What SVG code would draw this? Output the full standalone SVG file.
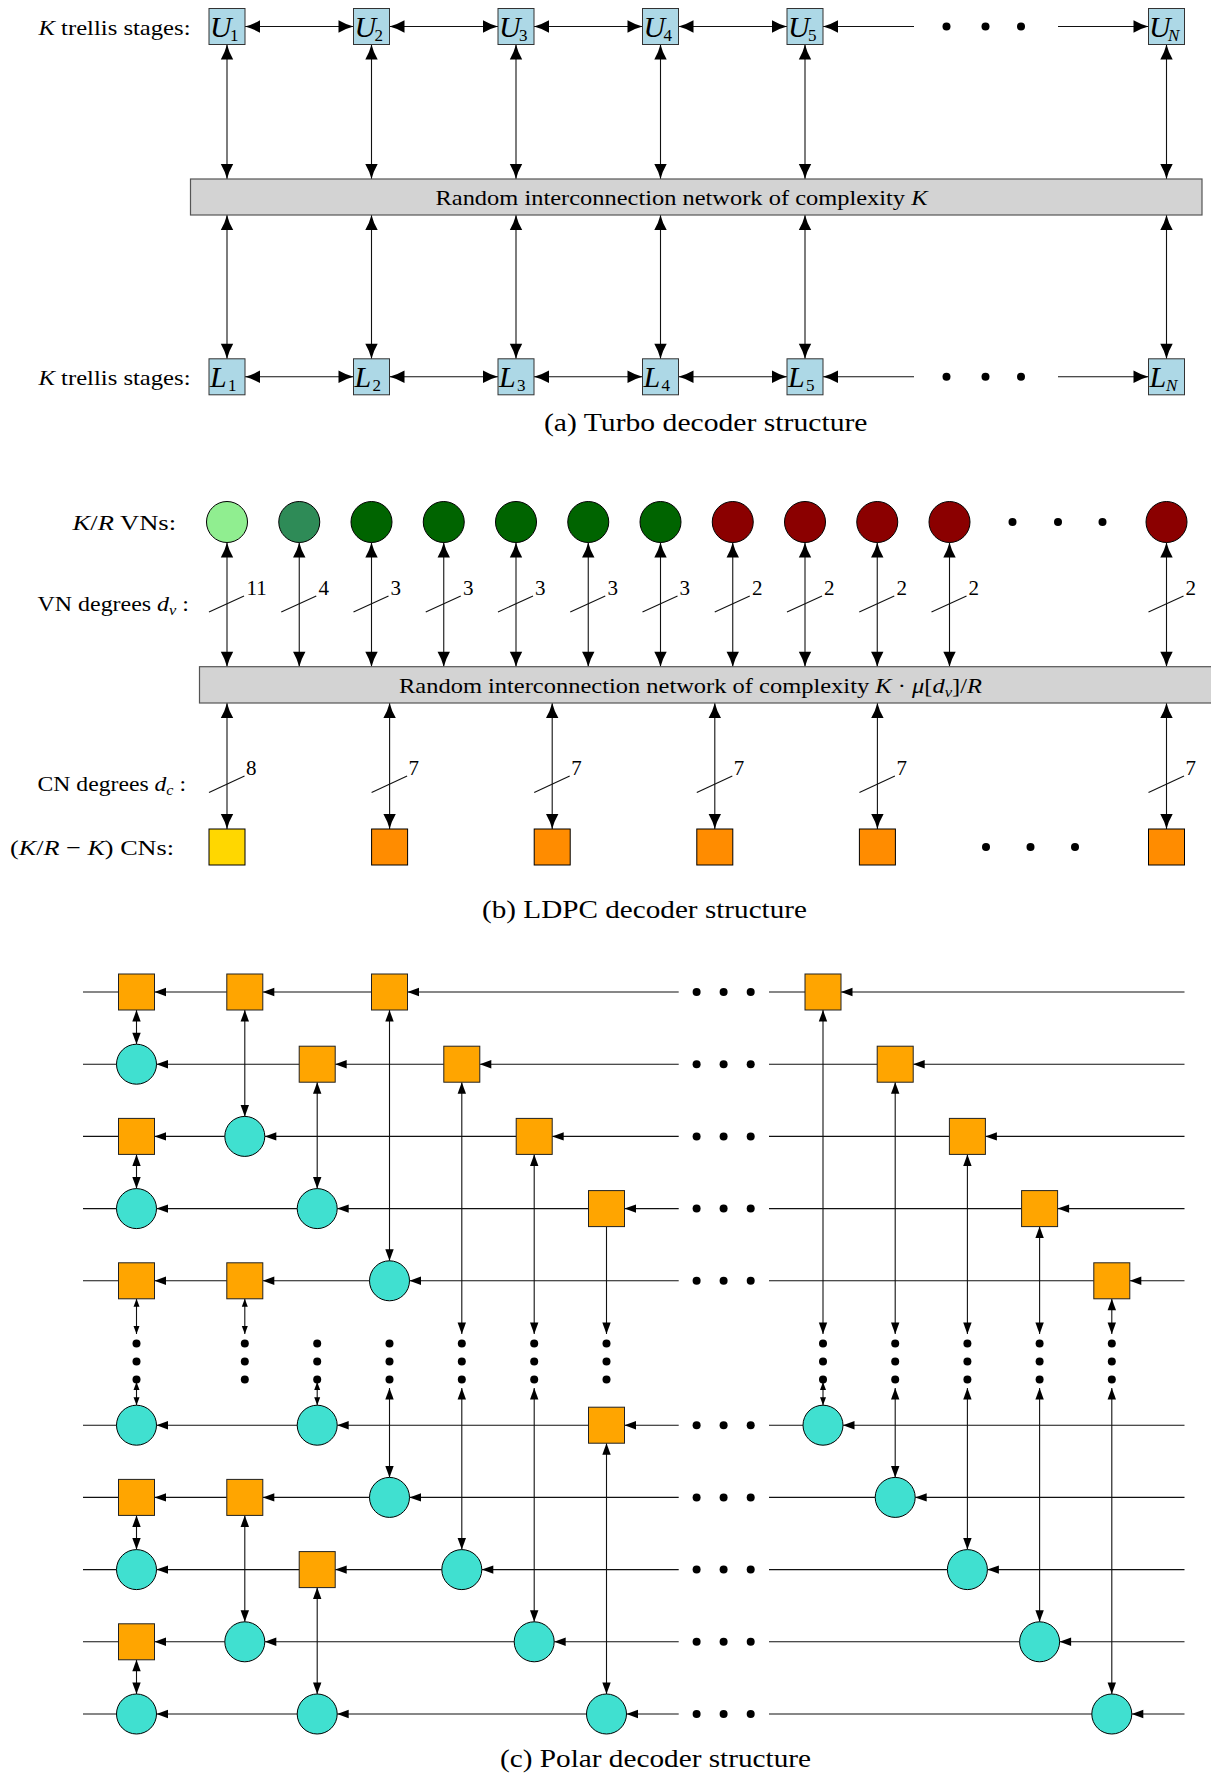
<svg xmlns="http://www.w3.org/2000/svg" width="1211" height="1778" viewBox="0 0 1211 1778">
<defs>
<style>
text { font-family: "Liberation Serif", "Times New Roman", serif; fill: #000; }
.t { font-size: 22px; }
.cap { font-size: 26px; }
.deg { font-size: 21px; }
.it { font-style: italic; }
.big { font-size: 30px; font-style: italic; }
.sub { font-size: 17px; font-style: normal; }
.subi { font-size: 17px; font-style: italic; }
.ln { fill: none; stroke: #111; stroke-width: 1.1; }
.ab { marker-start: url(#ah); marker-end: url(#ah); }
.ae { marker-end: url(#ah); }
.pb { marker-start: url(#pa); marker-end: url(#pa); }
.pe { marker-end: url(#pa); }
.sb2 { marker-start: url(#ps); marker-end: url(#ps); }
.tb { fill: #ADD8E6; stroke: #333; stroke-width: 1; }
.net { fill: #D3D3D3; stroke: #555; stroke-width: 1.2; }
.vn { stroke: #000; stroke-width: 1; }
.cn { stroke: #000; stroke-width: 1; }
.sq { fill: #FFA500; stroke: #222; stroke-width: 1; }
.ci { fill: #40E0D0; stroke: #000; stroke-width: 1; }
.dot { fill: #000; }
</style>
<!-- LaTeX-style arrow tip for the turbo and LDPC panels -->
<marker id="ah" markerUnits="userSpaceOnUse" markerWidth="17" markerHeight="15" refX="15" refY="6.5" orient="auto-start-reverse" overflow="visible">
<path d="M15,6.5 Q7.5,4.6 0,0.3 L0,12.7 Q7.5,8.4 15,6.5Z" fill="#000"/>
</marker>
<!-- triangle tip for the polar panel -->
<marker id="pa" markerUnits="userSpaceOnUse" markerWidth="13" markerHeight="10" refX="11.5" refY="4.2" orient="auto-start-reverse" overflow="visible">
<path d="M11.5,4.2 L0,0 L0,8.4Z" fill="#000"/>
</marker>
<marker id="ps" markerUnits="userSpaceOnUse" markerWidth="9" markerHeight="7" refX="8" refY="3" orient="auto-start-reverse" overflow="visible">
<path d="M8,3 L0,0 L0,6Z" fill="#000"/>
</marker>
</defs>
<rect width="1211" height="1778" fill="#fff"/>

<!-- ===== (a) Turbo decoder ===== -->
<g id="turbo-connectors">
<path class="ln ab" d="M245 26.5H353.5"/>
<path class="ln ab" d="M389.5 26.5H498"/>
<path class="ln ab" d="M534 26.5H642.5"/>
<path class="ln ab" d="M678.5 26.5H787"/>
<path class="ln ae" d="M914 26.5H823"/>
<path class="ln ae" d="M1058 26.5H1148.5"/>
<path class="ln ab" d="M245 376.8H353.5"/>
<path class="ln ab" d="M389.5 376.8H498"/>
<path class="ln ab" d="M534 376.8H642.5"/>
<path class="ln ab" d="M678.5 376.8H787"/>
<path class="ln ae" d="M914 376.8H823"/>
<path class="ln ae" d="M1058 376.8H1148.5"/>
<path class="ln ab" d="M227 44.5V179"/>
<path class="ln ab" d="M371.5 44.5V179"/>
<path class="ln ab" d="M516 44.5V179"/>
<path class="ln ab" d="M660.5 44.5V179"/>
<path class="ln ab" d="M805 44.5V179"/>
<path class="ln ab" d="M1166.5 44.5V179"/>
<path class="ln ab" d="M227 215V358.8"/>
<path class="ln ab" d="M371.5 215V358.8"/>
<path class="ln ab" d="M516 215V358.8"/>
<path class="ln ab" d="M660.5 215V358.8"/>
<path class="ln ab" d="M805 215V358.8"/>
<path class="ln ab" d="M1166.5 215V358.8"/>
</g>
<g id="turbo-dots">
<circle class="dot" cx="946.5" cy="26.5" r="4"/><circle class="dot" cx="985.5" cy="26.5" r="4"/><circle class="dot" cx="1021" cy="26.5" r="4"/>
<circle class="dot" cx="946.5" cy="376.8" r="4"/><circle class="dot" cx="985.5" cy="376.8" r="4"/><circle class="dot" cx="1021" cy="376.8" r="4"/>
</g>
<text class="t" x="38.5" y="34.5" textLength="152" lengthAdjust="spacingAndGlyphs"><tspan class="it">K</tspan> trellis stages:</text>
<text class="t" x="38.5" y="384.5" textLength="152" lengthAdjust="spacingAndGlyphs"><tspan class="it">K</tspan> trellis stages:</text>

<g id="U1"><rect class="tb" x="209" y="8.5" width="36" height="36"/><text class="big" x="210" y="37"><tspan>U</tspan><tspan class="sub" x="230" dy="4">1</tspan></text></g>
<g id="U2"><rect class="tb" x="353.5" y="8.5" width="36" height="36"/><text class="big" x="354.5" y="37"><tspan>U</tspan><tspan class="sub" x="374.5" dy="4">2</tspan></text></g>
<g id="U3"><rect class="tb" x="498" y="8.5" width="36" height="36"/><text class="big" x="499" y="37"><tspan>U</tspan><tspan class="sub" x="519" dy="4">3</tspan></text></g>
<g id="U4"><rect class="tb" x="642.5" y="8.5" width="36" height="36"/><text class="big" x="643.5" y="37"><tspan>U</tspan><tspan class="sub" x="663.5" dy="4">4</tspan></text></g>
<g id="U5"><rect class="tb" x="787" y="8.5" width="36" height="36"/><text class="big" x="788" y="37"><tspan>U</tspan><tspan class="sub" x="808" dy="4">5</tspan></text></g>
<g id="UN"><rect class="tb" x="1148.5" y="8.5" width="36" height="36"/><text class="big" x="1149" y="37"><tspan>U</tspan><tspan class="subi" x="1168" dy="4">N</tspan></text></g>

<g id="turbo-network"><rect class="net" x="190.5" y="179" width="1011.5" height="36"/>
<text class="t" x="435.5" y="204.5" textLength="492" lengthAdjust="spacingAndGlyphs">Random interconnection network of complexity <tspan class="it">K</tspan></text></g>

<g id="L1"><rect class="tb" x="209" y="358.8" width="36" height="36"/><text class="big" x="210" y="387.3"><tspan>L</tspan><tspan class="sub" x="228" dy="4">1</tspan></text></g>
<g id="L2"><rect class="tb" x="353.5" y="358.8" width="36" height="36"/><text class="big" x="354.5" y="387.3"><tspan>L</tspan><tspan class="sub" x="372.5" dy="4">2</tspan></text></g>
<g id="L3"><rect class="tb" x="498" y="358.8" width="36" height="36"/><text class="big" x="499" y="387.3"><tspan>L</tspan><tspan class="sub" x="517" dy="4">3</tspan></text></g>
<g id="L4"><rect class="tb" x="642.5" y="358.8" width="36" height="36"/><text class="big" x="643.5" y="387.3"><tspan>L</tspan><tspan class="sub" x="661.5" dy="4">4</tspan></text></g>
<g id="L5"><rect class="tb" x="787" y="358.8" width="36" height="36"/><text class="big" x="788" y="387.3"><tspan>L</tspan><tspan class="sub" x="806" dy="4">5</tspan></text></g>
<g id="LN"><rect class="tb" x="1148.5" y="358.8" width="36" height="36"/><text class="big" x="1149.5" y="387.3"><tspan>L</tspan><tspan class="subi" x="1166" dy="4">N</tspan></text></g>

<text class="cap" x="544" y="431" textLength="323.5" lengthAdjust="spacingAndGlyphs">(a) Turbo decoder structure</text>

<!-- ===== (b) LDPC decoder ===== -->
<g id="ldpc-connectors">
<path class="ln ab" d="M227 542.5V666.7"/>
<path class="ln ab" d="M299.25 542.5V666.7"/>
<path class="ln ab" d="M371.5 542.5V666.7"/>
<path class="ln ab" d="M443.75 542.5V666.7"/>
<path class="ln ab" d="M516 542.5V666.7"/>
<path class="ln ab" d="M588.25 542.5V666.7"/>
<path class="ln ab" d="M660.5 542.5V666.7"/>
<path class="ln ab" d="M732.75 542.5V666.7"/>
<path class="ln ab" d="M805 542.5V666.7"/>
<path class="ln ab" d="M877.25 542.5V666.7"/>
<path class="ln ab" d="M949.5 542.5V666.7"/>
<path class="ln ab" d="M1166.5 542.5V666.7"/>
<path class="ln ab" d="M227 703V829"/>
<path class="ln ab" d="M389.6 703V829"/>
<path class="ln ab" d="M552.2 703V829"/>
<path class="ln ab" d="M714.8 703V829"/>
<path class="ln ab" d="M877.4 703V829"/>
<path class="ln ab" d="M1166.5 703V829"/>
</g>
<g id="ldpc-degree-marks" class="ln">
<path d="M209 612L244 596"/><path d="M281.25 612L316.25 596"/><path d="M353.5 612L388.5 596"/><path d="M425.75 612L460.75 596"/>
<path d="M498 612L533 596"/><path d="M570.25 612L605.25 596"/><path d="M642.5 612L677.5 596"/><path d="M714.75 612L749.75 596"/>
<path d="M787 612L822 596"/><path d="M859.25 612L894.25 596"/><path d="M931.5 612L966.5 596"/><path d="M1148.5 612L1183.5 596"/>
<path d="M209 792.5L244.5 776"/><path d="M371.6 792.5L407.1 776"/><path d="M534.2 792.5L569.7 776"/><path d="M696.8 792.5L732.3 776"/>
<path d="M859.4 792.5L894.9 776"/><path d="M1148.5 792.5L1184 776"/>
</g>
<g id="ldpc-degree-labels">
<text class="deg" x="246.5" y="595">11</text><text class="deg" x="318.5" y="595">4</text><text class="deg" x="390.5" y="595">3</text><text class="deg" x="463" y="595">3</text>
<text class="deg" x="535" y="595">3</text><text class="deg" x="607.5" y="595">3</text><text class="deg" x="679.5" y="595">3</text><text class="deg" x="752" y="595">2</text>
<text class="deg" x="824" y="595">2</text><text class="deg" x="896.5" y="595">2</text><text class="deg" x="968.5" y="595">2</text><text class="deg" x="1185.5" y="595">2</text>
<text class="deg" x="246" y="775">8</text><text class="deg" x="408.6" y="775">7</text><text class="deg" x="571.2" y="775">7</text><text class="deg" x="733.8" y="775">7</text>
<text class="deg" x="896.4" y="775">7</text><text class="deg" x="1185.5" y="775">7</text>
</g>
<text class="t" x="72.6" y="529.5" textLength="103.5" lengthAdjust="spacingAndGlyphs"><tspan class="it">K</tspan>/<tspan class="it">R</tspan> VNs:</text>
<text class="t" x="37.5" y="611" textLength="151.5" lengthAdjust="spacingAndGlyphs">VN degrees <tspan class="it">d</tspan><tspan class="it" font-size="15" dy="4">v</tspan><tspan dy="-4"> :</tspan></text>
<text class="t" x="37.6" y="790.5" textLength="148.4" lengthAdjust="spacingAndGlyphs">CN degrees <tspan class="it">d</tspan><tspan class="it" font-size="15" dy="4">c</tspan><tspan dy="-4"> :</tspan></text>
<text class="t" x="10" y="855" textLength="164" lengthAdjust="spacingAndGlyphs">(<tspan class="it">K</tspan>/<tspan class="it">R</tspan> − <tspan class="it">K</tspan>) CNs:</text>

<g id="VN1"><circle class="vn" cx="227" cy="522" r="20.5" fill="#90EE90"/></g>
<g id="VN2"><circle class="vn" cx="299.25" cy="522" r="20.5" fill="#2E8B57"/></g>
<g id="VN3"><circle class="vn" cx="371.5" cy="522" r="20.5" fill="#006400"/></g>
<g id="VN4"><circle class="vn" cx="443.75" cy="522" r="20.5" fill="#006400"/></g>
<g id="VN5"><circle class="vn" cx="516" cy="522" r="20.5" fill="#006400"/></g>
<g id="VN6"><circle class="vn" cx="588.25" cy="522" r="20.5" fill="#006400"/></g>
<g id="VN7"><circle class="vn" cx="660.5" cy="522" r="20.5" fill="#006400"/></g>
<g id="VN8"><circle class="vn" cx="732.75" cy="522" r="20.5" fill="#8B0000"/></g>
<g id="VN9"><circle class="vn" cx="805" cy="522" r="20.5" fill="#8B0000"/></g>
<g id="VN10"><circle class="vn" cx="877.25" cy="522" r="20.5" fill="#8B0000"/></g>
<g id="VN11"><circle class="vn" cx="949.5" cy="522" r="20.5" fill="#8B0000"/></g>
<g id="VNlast"><circle class="vn" cx="1166.5" cy="522" r="20.5" fill="#8B0000"/></g>
<g id="ldpc-dots">
<circle class="dot" cx="1012.5" cy="522" r="4"/><circle class="dot" cx="1058" cy="522" r="4"/><circle class="dot" cx="1102.5" cy="522" r="4"/>
<circle class="dot" cx="986" cy="847" r="4"/><circle class="dot" cx="1030.5" cy="847" r="4"/><circle class="dot" cx="1075" cy="847" r="4"/>
</g>

<g id="ldpc-network"><rect class="net" x="199.5" y="666.7" width="1020" height="36.3"/>
<text class="t" x="399" y="692.5" textLength="583" lengthAdjust="spacingAndGlyphs">Random interconnection network of complexity <tspan class="it">K</tspan> · <tspan class="it">μ</tspan>[<tspan class="it">d</tspan><tspan class="it" font-size="15" dy="4">v</tspan><tspan dy="-4">]/</tspan><tspan class="it">R</tspan></text></g>

<g id="CN1"><rect class="cn" x="209" y="829" width="36" height="36" fill="#FFD700"/></g>
<g id="CN2"><rect class="cn" x="371.6" y="829" width="36" height="36" fill="#FF8C00"/></g>
<g id="CN3"><rect class="cn" x="534.2" y="829" width="36" height="36" fill="#FF8C00"/></g>
<g id="CN4"><rect class="cn" x="696.8" y="829" width="36" height="36" fill="#FF8C00"/></g>
<g id="CN5"><rect class="cn" x="859.4" y="829" width="36" height="36" fill="#FF8C00"/></g>
<g id="CNlast"><rect class="cn" x="1148.5" y="829" width="36" height="36" fill="#FF8C00"/></g>

<text class="cap" x="482" y="917.5" textLength="325" lengthAdjust="spacingAndGlyphs">(b) LDPC decoder structure</text>

<!-- ===== (c) Polar decoder ===== -->
<g id="polar-connectors">
<!-- row 0 -->
<path class="ln pe" d="M678.7 992H407.5"/><path class="ln pe" d="M371.5 992H262.8"/><path class="ln pe" d="M226.8 992H154.5"/><path class="ln" d="M118.5 992H83"/>
<path class="ln pe" d="M1184.5 992H841"/><path class="ln" d="M805 992H769"/>
<!-- row 1 -->
<path class="ln pe" d="M678.7 1064.2H479.8"/><path class="ln pe" d="M443.8 1064.2H335.2"/><path class="ln pe" d="M299.2 1064.2H156.5"/><path class="ln" d="M116.5 1064.2H83"/>
<path class="ln pe" d="M1184.5 1064.2H913.2"/><path class="ln" d="M877.2 1064.2H769"/>
<!-- row 2 -->
<path class="ln pe" d="M678.7 1136.4H552.2"/><path class="ln pe" d="M516.2 1136.4H264.8"/><path class="ln pe" d="M224.8 1136.4H154.5"/><path class="ln" d="M118.5 1136.4H83"/>
<path class="ln pe" d="M1184.5 1136.4H985.4"/><path class="ln" d="M949.4 1136.4H769"/>
<!-- row 3 -->
<path class="ln pe" d="M678.7 1208.6H624.5"/><path class="ln pe" d="M588.5 1208.6H337.2"/><path class="ln pe" d="M297.2 1208.6H156.5"/><path class="ln" d="M116.5 1208.6H83"/>
<path class="ln pe" d="M1184.5 1208.6H1057.6"/><path class="ln" d="M1021.6 1208.6H769"/>
<!-- row 4 -->
<path class="ln pe" d="M678.7 1280.8H409.5"/><path class="ln pe" d="M369.5 1280.8H262.8"/><path class="ln pe" d="M226.8 1280.8H154.5"/><path class="ln" d="M118.5 1280.8H83"/>
<path class="ln pe" d="M1184.5 1280.8H1129.8"/><path class="ln" d="M1093.8 1280.8H769"/>
<!-- row 6 -->
<path class="ln pe" d="M678.7 1425.2H624.5"/><path class="ln pe" d="M588.5 1425.2H337.2"/><path class="ln pe" d="M297.2 1425.2H156.5"/><path class="ln" d="M116.5 1425.2H83"/>
<path class="ln pe" d="M1184.5 1425.2H843"/><path class="ln" d="M803 1425.2H769"/>
<!-- row 7 -->
<path class="ln pe" d="M678.7 1497.4H409.5"/><path class="ln pe" d="M369.5 1497.4H262.8"/><path class="ln pe" d="M226.8 1497.4H154.5"/><path class="ln" d="M118.5 1497.4H83"/>
<path class="ln pe" d="M1184.5 1497.4H915.2"/><path class="ln" d="M875.2 1497.4H769"/>
<!-- row 8 -->
<path class="ln pe" d="M678.7 1569.6H481.8"/><path class="ln pe" d="M441.8 1569.6H335.2"/><path class="ln pe" d="M299.2 1569.6H156.5"/><path class="ln" d="M116.5 1569.6H83"/>
<path class="ln pe" d="M1184.5 1569.6H987.4"/><path class="ln" d="M947.4 1569.6H769"/>
<!-- row 9 -->
<path class="ln pe" d="M678.7 1641.8H554.2"/><path class="ln pe" d="M514.2 1641.8H264.8"/><path class="ln pe" d="M224.8 1641.8H154.5"/><path class="ln" d="M118.5 1641.8H83"/>
<path class="ln pe" d="M1184.5 1641.8H1059.6"/><path class="ln" d="M1019.6 1641.8H769"/>
<!-- row 10 -->
<path class="ln pe" d="M678.7 1714H626.5"/><path class="ln pe" d="M586.5 1714H337.2"/><path class="ln pe" d="M297.2 1714H156.5"/><path class="ln" d="M116.5 1714H83"/>
<path class="ln pe" d="M1184.5 1714H1131.8"/><path class="ln" d="M1091.8 1714H769"/>
<!-- vertical links -->
<path class="ln pb" d="M136.5 1010V1044.2"/><path class="ln pb" d="M136.5 1154.4V1188.6"/><path class="ln sb2" d="M136.5 1298.8V1334"/>
<path class="ln sb2" d="M136.5 1382V1405.2"/><path class="ln pb" d="M136.5 1515.4V1549.6"/><path class="ln pb" d="M136.5 1659.8V1694"/>
<path class="ln pb" d="M244.8 1010V1116.4"/><path class="ln sb2" d="M244.8 1298.8V1334"/><path class="ln pb" d="M244.8 1515.4V1621.8"/>
<path class="ln pb" d="M317.2 1082.2V1188.6"/><path class="ln sb2" d="M317.2 1382V1405.2"/><path class="ln pb" d="M317.2 1587.6V1694"/>
<path class="ln pb" d="M389.5 1010V1260.8"/><path class="ln pb" d="M389.5 1388V1477.4"/>
<path class="ln pb" d="M461.8 1082.2V1334"/><path class="ln pb" d="M461.8 1388V1549.6"/>
<path class="ln pb" d="M534.2 1154.4V1334"/><path class="ln pb" d="M534.2 1388V1621.8"/>
<path class="ln pe" d="M606.5 1226.6V1334"/><path class="ln pb" d="M606.5 1443.2V1694"/>
<path class="ln pb" d="M823 1010V1334"/><path class="ln sb2" d="M823 1382V1405.2"/>
<path class="ln pb" d="M895.2 1082.2V1334"/><path class="ln pb" d="M895.2 1388V1477.4"/>
<path class="ln pb" d="M967.4 1154.4V1334"/><path class="ln pb" d="M967.4 1388V1549.6"/>
<path class="ln pb" d="M1039.6 1226.6V1334"/><path class="ln pb" d="M1039.6 1388V1621.8"/>
<path class="ln pb" d="M1111.8 1298.8V1334"/><path class="ln pb" d="M1111.8 1388V1694"/>
</g>

<g id="polar-dots">
<circle class="dot" cx="696.6" cy="992" r="4"/><circle class="dot" cx="723.6" cy="992" r="4"/><circle class="dot" cx="750.7" cy="992" r="4"/>
<circle class="dot" cx="696.6" cy="1064.2" r="4"/><circle class="dot" cx="723.6" cy="1064.2" r="4"/><circle class="dot" cx="750.7" cy="1064.2" r="4"/>
<circle class="dot" cx="696.6" cy="1136.4" r="4"/><circle class="dot" cx="723.6" cy="1136.4" r="4"/><circle class="dot" cx="750.7" cy="1136.4" r="4"/>
<circle class="dot" cx="696.6" cy="1208.6" r="4"/><circle class="dot" cx="723.6" cy="1208.6" r="4"/><circle class="dot" cx="750.7" cy="1208.6" r="4"/>
<circle class="dot" cx="696.6" cy="1280.8" r="4"/><circle class="dot" cx="723.6" cy="1280.8" r="4"/><circle class="dot" cx="750.7" cy="1280.8" r="4"/>
<circle class="dot" cx="696.6" cy="1425.2" r="4"/><circle class="dot" cx="723.6" cy="1425.2" r="4"/><circle class="dot" cx="750.7" cy="1425.2" r="4"/>
<circle class="dot" cx="696.6" cy="1497.4" r="4"/><circle class="dot" cx="723.6" cy="1497.4" r="4"/><circle class="dot" cx="750.7" cy="1497.4" r="4"/>
<circle class="dot" cx="696.6" cy="1569.6" r="4"/><circle class="dot" cx="723.6" cy="1569.6" r="4"/><circle class="dot" cx="750.7" cy="1569.6" r="4"/>
<circle class="dot" cx="696.6" cy="1641.8" r="4"/><circle class="dot" cx="723.6" cy="1641.8" r="4"/><circle class="dot" cx="750.7" cy="1641.8" r="4"/>
<circle class="dot" cx="696.6" cy="1714" r="4"/><circle class="dot" cx="723.6" cy="1714" r="4"/><circle class="dot" cx="750.7" cy="1714" r="4"/>
<g id="vertical-dots">
<circle class="dot" cx="136.5" cy="1343.5" r="4"/><circle class="dot" cx="136.5" cy="1361.5" r="4"/><circle class="dot" cx="136.5" cy="1379.5" r="4"/>
<circle class="dot" cx="244.8" cy="1343.5" r="4"/><circle class="dot" cx="244.8" cy="1361.5" r="4"/><circle class="dot" cx="244.8" cy="1379.5" r="4"/>
<circle class="dot" cx="317.2" cy="1343.5" r="4"/><circle class="dot" cx="317.2" cy="1361.5" r="4"/><circle class="dot" cx="317.2" cy="1379.5" r="4"/>
<circle class="dot" cx="389.5" cy="1343.5" r="4"/><circle class="dot" cx="389.5" cy="1361.5" r="4"/><circle class="dot" cx="389.5" cy="1379.5" r="4"/>
<circle class="dot" cx="461.8" cy="1343.5" r="4"/><circle class="dot" cx="461.8" cy="1361.5" r="4"/><circle class="dot" cx="461.8" cy="1379.5" r="4"/>
<circle class="dot" cx="534.2" cy="1343.5" r="4"/><circle class="dot" cx="534.2" cy="1361.5" r="4"/><circle class="dot" cx="534.2" cy="1379.5" r="4"/>
<circle class="dot" cx="606.5" cy="1343.5" r="4"/><circle class="dot" cx="606.5" cy="1361.5" r="4"/><circle class="dot" cx="606.5" cy="1379.5" r="4"/>
<circle class="dot" cx="823" cy="1343.5" r="4"/><circle class="dot" cx="823" cy="1361.5" r="4"/><circle class="dot" cx="823" cy="1379.5" r="4"/>
<circle class="dot" cx="895.2" cy="1343.5" r="4"/><circle class="dot" cx="895.2" cy="1361.5" r="4"/><circle class="dot" cx="895.2" cy="1379.5" r="4"/>
<circle class="dot" cx="967.4" cy="1343.5" r="4"/><circle class="dot" cx="967.4" cy="1361.5" r="4"/><circle class="dot" cx="967.4" cy="1379.5" r="4"/>
<circle class="dot" cx="1039.6" cy="1343.5" r="4"/><circle class="dot" cx="1039.6" cy="1361.5" r="4"/><circle class="dot" cx="1039.6" cy="1379.5" r="4"/>
<circle class="dot" cx="1111.8" cy="1343.5" r="4"/><circle class="dot" cx="1111.8" cy="1361.5" r="4"/><circle class="dot" cx="1111.8" cy="1379.5" r="4"/>
</g>
</g>

<!-- polar nodes: squares are check-type, circles are variable-type -->
<g id="p0-c1"><rect class="sq" x="118.5" y="974" width="36" height="36"/></g>
<g id="p0-c2"><rect class="sq" x="226.8" y="974" width="36" height="36"/></g>
<g id="p0-c4"><rect class="sq" x="371.5" y="974" width="36" height="36"/></g>
<g id="p0-r1"><rect class="sq" x="805" y="974" width="36" height="36"/></g>

<g id="p1-c1"><circle class="ci" cx="136.5" cy="1064.2" r="20"/></g>
<g id="p1-c3"><rect class="sq" x="299.2" y="1046.2" width="36" height="36"/></g>
<g id="p1-c5"><rect class="sq" x="443.8" y="1046.2" width="36" height="36"/></g>
<g id="p1-r2"><rect class="sq" x="877.2" y="1046.2" width="36" height="36"/></g>

<g id="p2-c1"><rect class="sq" x="118.5" y="1118.4" width="36" height="36"/></g>
<g id="p2-c2"><circle class="ci" cx="244.8" cy="1136.4" r="20"/></g>
<g id="p2-c6"><rect class="sq" x="516.2" y="1118.4" width="36" height="36"/></g>
<g id="p2-r3"><rect class="sq" x="949.4" y="1118.4" width="36" height="36"/></g>

<g id="p3-c1"><circle class="ci" cx="136.5" cy="1208.6" r="20"/></g>
<g id="p3-c3"><circle class="ci" cx="317.2" cy="1208.6" r="20"/></g>
<g id="p3-c7"><rect class="sq" x="588.5" y="1190.6" width="36" height="36"/></g>
<g id="p3-r4"><rect class="sq" x="1021.6" y="1190.6" width="36" height="36"/></g>

<g id="p4-c1"><rect class="sq" x="118.5" y="1262.8" width="36" height="36"/></g>
<g id="p4-c2"><rect class="sq" x="226.8" y="1262.8" width="36" height="36"/></g>
<g id="p4-c4"><circle class="ci" cx="389.5" cy="1280.8" r="20"/></g>
<g id="p4-r5"><rect class="sq" x="1093.8" y="1262.8" width="36" height="36"/></g>

<g id="p6-c1"><circle class="ci" cx="136.5" cy="1425.2" r="20"/></g>
<g id="p6-c3"><circle class="ci" cx="317.2" cy="1425.2" r="20"/></g>
<g id="p6-c7"><rect class="sq" x="588.5" y="1407.2" width="36" height="36"/></g>
<g id="p6-r1"><circle class="ci" cx="823" cy="1425.2" r="20"/></g>

<g id="p7-c1"><rect class="sq" x="118.5" y="1479.4" width="36" height="36"/></g>
<g id="p7-c2"><rect class="sq" x="226.8" y="1479.4" width="36" height="36"/></g>
<g id="p7-c4"><circle class="ci" cx="389.5" cy="1497.4" r="20"/></g>
<g id="p7-r2"><circle class="ci" cx="895.2" cy="1497.4" r="20"/></g>

<g id="p8-c1"><circle class="ci" cx="136.5" cy="1569.6" r="20"/></g>
<g id="p8-c3"><rect class="sq" x="299.2" y="1551.6" width="36" height="36"/></g>
<g id="p8-c5"><circle class="ci" cx="461.8" cy="1569.6" r="20"/></g>
<g id="p8-r3"><circle class="ci" cx="967.4" cy="1569.6" r="20"/></g>

<g id="p9-c1"><rect class="sq" x="118.5" y="1623.8" width="36" height="36"/></g>
<g id="p9-c2"><circle class="ci" cx="244.8" cy="1641.8" r="20"/></g>
<g id="p9-c6"><circle class="ci" cx="534.2" cy="1641.8" r="20"/></g>
<g id="p9-r4"><circle class="ci" cx="1039.6" cy="1641.8" r="20"/></g>

<g id="p10-c1"><circle class="ci" cx="136.5" cy="1714" r="20"/></g>
<g id="p10-c3"><circle class="ci" cx="317.2" cy="1714" r="20"/></g>
<g id="p10-c7"><circle class="ci" cx="606.5" cy="1714" r="20"/></g>
<g id="p10-r5"><circle class="ci" cx="1111.8" cy="1714" r="20"/></g>

<text class="cap" x="500" y="1767" textLength="311" lengthAdjust="spacingAndGlyphs">(c) Polar decoder structure</text>
</svg>
